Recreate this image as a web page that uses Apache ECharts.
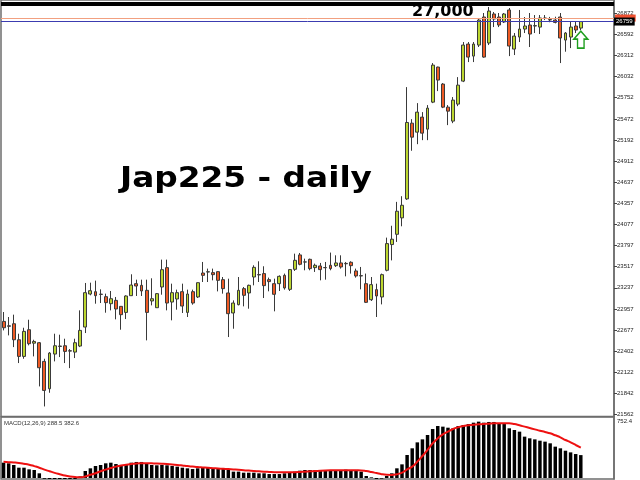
<!DOCTYPE html>
<html><head><meta charset="utf-8">
<script src="https://cdn.jsdelivr.net/npm/echarts@6/dist/echarts.min.js"></script>
<style>html,body{margin:0;padding:0;background:#fff}#c{width:640px;height:480px}</style>
</head><body><div id="c"></div>
<script>
const opens = [22793,22735,22762,22550,22330,22683,22505,22511,22264,21902,22361,22467,22471,22405,22387,22467,22718,23155,23186,23153,23120,23027,23071,22992,22912,23133,23292,23270,23204,23063,22974,23248,23504,23049,23089,23186,22912,23186,23116,23433,23446,23438,23451,23345,23169,22904,23014,23226,23169,23380,23412,23425,23345,23292,23292,23402,23217,23482,23672,23580,23614,23504,23526,23505,23535,23530,23566,23555,23575,23460,23398,23292,23080,23213,23116,23469,23809,23945,24162,24413,25415,25296,25495,25336,25693,26157,25932,25627,25442,25667,25971,26461,26302,26448,26819,26475,26859,26819,26753,26912,26395,26554,26660,26713,26700,26686,26800,26785,26779,26819,26514,26554,26700,26673];
const closes = [22709,22728,22550,22330,22661,22498,22528,22180,21880,22374,22471,22462,22396,22400,22511,22674,23173,23199,23133,23150,23041,23093,22957,22882,23129,23274,23261,23195,22912,23093,23160,23477,23036,23173,23173,22996,23155,23036,23305,23402,23450,23411,23336,23226,22895,23036,23204,23138,23270,23508,23408,23266,23319,23151,23389,23235,23478,23601,23548,23578,23491,23535,23478,23503,23491,23566,23513,23560,23530,23394,23394,23045,23279,23129,23411,23822,23880,24250,24329,25424,25230,25561,25283,25614,26183,25985,25627,25574,25720,25918,26448,26289,26461,26779,26289,26898,26792,26713,26859,26435,26567,26660,26700,26594,26705,26806,26806,26780,26748,26541,26607,26686,26647,26759];
const lows = [22674,22608,22453,22242,22299,22476,22330,21933,21668,21849,22264,22321,22242,22175,22308,22453,22639,23138,23027,23036,22908,22939,22820,22683,22824,23129,23129,23129,22542,23005,22970,23146,22939,22807,22948,22904,22851,23014,23102,23314,23314,23336,23190,23160,22586,22696,23005,22992,22961,23270,23314,23102,23191,22926,23195,23213,23195,23460,23535,23469,23469,23447,23336,23345,23469,23513,23491,23389,23425,23372,23217,23036,23063,22851,23018,23455,23600,23844,24051,24400,25050,25137,25190,25190,25680,25839,25614,25389,25415,25640,25958,26223,26223,26422,26280,26448,26686,26686,26740,26302,26316,26488,26607,26422,26607,26594,26779,26750,26735,26210,26360,26408,26607,26647];
const highs = [22917,22851,22882,22630,22709,22815,22550,22520,22299,22387,22630,22617,22564,22427,22564,22939,23301,23305,23332,23217,23160,23195,23116,22995,23138,23416,23345,23345,23345,23363,23168,23610,23610,23292,23213,23292,23213,23213,23308,23579,23491,23491,23455,23380,23358,23071,23380,23248,23279,23535,23588,23522,23372,23358,23402,23425,23486,23689,23698,23623,23623,23557,23566,23579,23703,23667,23667,23579,23588,23491,23513,23425,23380,23292,23425,23901,24058,24374,24449,25892,25468,25680,25561,25654,26210,26162,25945,25654,25760,26024,26488,26488,26488,26806,26872,26951,26885,26872,26872,26938,26607,26912,26819,26872,26845,26845,26845,26820,26823,26872,26620,26753,26753,26766];
const macdHist = [193,185,164,130,130,109,101,59,-10,-25,-35,-40,-35,-30,-15,20,88,122,151,164,185,193,176,164,176,193,202,202,185,164,160,164,160,151,143,130,122,113,122,130,130,126,122,113,101,80,80,67,67,67,59,59,50,50,50,59,67,80,92,101,101,101,101,101,101,101,101,105,101,92,80,25,8,-13,-8,25,59,122,172,290,374,449,487,542,617,655,647,634,626,655,668,680,697,710,697,706,706,689,680,626,605,584,521,500,487,470,458,437,395,374,344,323,302,288.5];
const macdSignal = [204,200,196,190,180,168,150,130,105,85,65,48,32,20,12,8,20,40,60,85,105,125,143,158,168,176,183,186,187,185,183,180,176,170,165,158,150,144,138,133,128,124,120,116,112,108,104,98,93,88,84,80,77,74,72,71,72,73,76,80,84,88,92,95,97,98,99,99,98,97,96,88,76,62,48,40,38,48,67,109,143,206,277,353,437,500,550,584,617,639,655,664,672,676,680,685,689,689,689,689,680,664,647,630,613,596,580,563,538,512,479,449,416,382.6];
const priceTicks = [21562,21842,22122,22402,22677,22957,23237,23517,23797,24077,24357,24637,24912,25192,25472,25752,26032,26312,26592,26872];
const macdTicks = [752.4];
const levelPrice = 27000;
const askPrice = 26805;
const bidPrice = 26759;
const arrowPrice = 26520;

const days = opens.map((_, i) => 'D' + (i + 1));
const candles = opens.map((o, i) => [o, closes[i], lows[i], highs[i]]);
const F = '"Liberation Sans", Arial, sans-serif';

const chart = echarts.init(document.getElementById('c'), null, {renderer: 'canvas'});
const option = {
  animation: false,
  backgroundColor: '#ffffff',
  grid: [
    {left: 1, top: 0, width: 613, height: 416.5, show: true, borderColor: '#6e6e6e', borderWidth: 1.5},
    {left: 1, top: 417, width: 613, height: 62, show: true, borderColor: '#6e6e6e', borderWidth: 1.5}
  ],
  xAxis: [
    {type: 'category', data: days, gridIndex: 0, max: 119, boundaryGap: true, show: false},
    {type: 'category', data: days, gridIndex: 1, max: 119, boundaryGap: true, show: false}
  ],
  yAxis: [
    {type: 'value', gridIndex: 0, position: 'right', min: 21535, max: 27044,
      splitLine: {show: false},
      axisLine: {show: true, lineStyle: {color: '#6e6e6e', width: 1.5}},
      axisTick: {show: true, length: 3, customValues: priceTicks, lineStyle: {color: '#444'}},
      axisLabel: {customValues: priceTicks, fontSize: 6, fontFamily: F, color: '#222', margin: 3, formatter: v => String(v)}
    },
    {type: 'value', gridIndex: 1, position: 'right', min: -12.6, max: 768.6,
      splitLine: {show: false},
      axisLine: {show: true, lineStyle: {color: '#6e6e6e', width: 1.5}},
      axisTick: {show: false},
      axisLabel: {customValues: macdTicks, fontSize: 6, fontFamily: F, color: '#222', margin: 3, verticalAlign: 'top', formatter: v => String(v)}
    }
  ],
  series: [
    {
      type: 'candlestick', xAxisIndex: 0, yAxisIndex: 0, data: candles, barWidth: 3.4,
      itemStyle: {color: '#bcd630', color0: '#ee5a24', borderColor: '#3a3a3a', borderColor0: '#3a3a3a', borderWidth: 1},
      markLine: {
        silent: true, symbol: ['none', 'none'],
        data: [
          {yAxis: levelPrice, lineStyle: {color: '#000', width: 4, type: 'solid'}, label: {show: false}},
          {yAxis: askPrice, lineStyle: {color: '#f2a080', width: 1, type: 'solid'},
            label: {show: true, position: 'end', distance: 1, formatter: '26805', color: '#f05030', backgroundColor: '#f05030', fontSize: 6, fontFamily: F, padding: [1, 2, 0, 2]}},
          {yAxis: bidPrice, lineStyle: {color: '#3c3cb0', width: 1, type: 'solid'},
            label: {show: true, position: 'end', distance: 0, formatter: String(bidPrice), color: '#fff', backgroundColor: '#000', fontSize: 6, fontFamily: F, padding: [1, 2, 1, 2]}}
        ]
      },
      markPoint: {
        silent: true,
        data: [{coord: [days[days.length - 1], arrowPrice], symbol: 'path://M7.5,0 L15,8 L11,8 L11,17 L4,17 L4,8 L0,8 Z', symbolSize: [14, 17], symbolKeepAspect: false,
          itemStyle: {color: '#ffffff', borderColor: '#1e9e1e', borderWidth: 1.5}, label: {show: false}}]
      }
    },
    {type: 'bar', xAxisIndex: 1, yAxisIndex: 1, data: macdHist, barWidth: '68%', itemStyle: {color: '#000'}},
    {type: 'line', xAxisIndex: 1, yAxisIndex: 1, data: macdSignal, smooth: true, showSymbol: false, lineStyle: {color: '#ee1111', width: 2}}
  ],
  graphic: [
    {type: 'text', x: 120, y: 165, scaleX: 1.13, style: {text: 'Jap225 - daily', font: 'bold 29px "DejaVu Sans"', fill: '#000'}},
    {type: 'text', x: 412, y: 4, style: {text: '27,000', font: 'bold 16px "DejaVu Sans"', fill: '#000'}},
    {type: 'text', x: 4, y: 420, style: {text: 'MACD(12,26,9) 288.5 382.6', font: '6px "Liberation Sans"', fill: '#333'}}
  ]
};
chart.setOption(option);
</script>
</body></html>
